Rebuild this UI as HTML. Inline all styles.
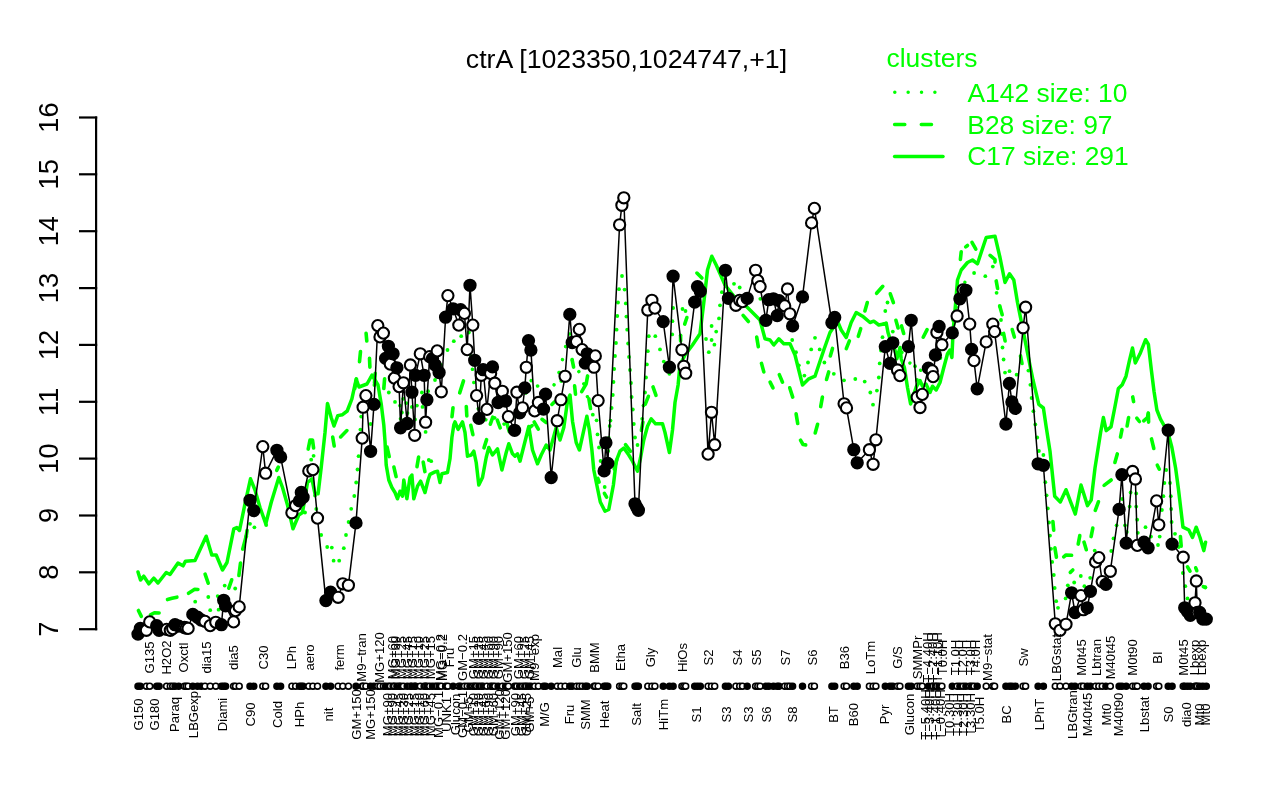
<!DOCTYPE html><html><head><meta charset="utf-8"><title>ctrA [1023350,1024747,+1]</title>
<style>html,body{margin:0;padding:0;background:#fff}svg{display:block;will-change:transform}text{font-family:"Liberation Sans",sans-serif}</style></head><body>
<svg width="1280" height="800" viewBox="0 0 1280 800">
<rect width="1280" height="800" fill="#fff"/>
<text x="626.5" y="67.6" font-size="26.7" text-anchor="middle" fill="#000">ctrA [1023350,1024747,+1]</text>
<g stroke="#000" stroke-width="2.2" fill="none">
<path d="M96.1 116.4 V630.3"/>
<path d="M79 117.5 H97.2"/>
<path d="M79 174.3 H97.2"/>
<path d="M79 231.2 H97.2"/>
<path d="M79 288.1 H97.2"/>
<path d="M79 344.9 H97.2"/>
<path d="M79 401.8 H97.2"/>
<path d="M79 458.6 H97.2"/>
<path d="M79 515.5 H97.2"/>
<path d="M79 572.3 H97.2"/>
<path d="M79 629.2 H97.2"/>
</g>
<g font-size="27.2" fill="#000" text-anchor="middle">
<text transform="translate(57.5 117.5) rotate(-90)">16</text>
<text transform="translate(57.5 174.3) rotate(-90)">15</text>
<text transform="translate(57.5 231.2) rotate(-90)">14</text>
<text transform="translate(57.5 288.1) rotate(-90)">13</text>
<text transform="translate(57.5 344.9) rotate(-90)">12</text>
<text transform="translate(57.5 401.8) rotate(-90)">11</text>
<text transform="translate(57.5 458.6) rotate(-90)">10</text>
<text transform="translate(57.5 515.5) rotate(-90)">9</text>
<text transform="translate(57.5 572.3) rotate(-90)">8</text>
<text transform="translate(57.5 629.2) rotate(-90)">7</text>
</g>
<g fill="#00ff00" font-size="26.4">
<text x="886.5" y="67.2">clusters</text>
<text x="967.5" y="102">A142 size: 10</text>
<text x="967.3" y="133.5">B28 size: 97</text>
<text x="967.3" y="165.3">C17 size: 291</text>
</g>
<g stroke="#00ff00" stroke-width="3.5" fill="none">
<path d="M894.8 92.3 H944" stroke-dasharray="0.01 13.35" stroke-linecap="round"/>
<path d="M894.6 124.4 H944" stroke-dasharray="10.2 16.5" stroke-linecap="round"/>
<path d="M894.6 156.4 H943" stroke-linecap="round"/>
</g>
<g stroke="#00ff00" stroke-width="3.5" fill="none" stroke-linejoin="round">
<polyline points="471.0,356.0 473.8,382.5 477.5,407.5 484.0,418.0 490.0,423.8 496.2,416.2 505.0,425.0 515.0,415.0 525.0,395.0 532.5,377.5 540.0,390.0 550.0,395.0 560.0,370.0 566.0,345.0 570.0,333.8 572.5,362.5 581.2,375.0 587.0,395.0 590.0,408.0" stroke-dasharray="0.01 13.35" stroke-linecap="round"/>
<polyline points="897.0,340.0 903.0,355.0 913.8,367.5 925.0,372.0 935.0,368.0 945.0,350.0 953.0,320.0 960.0,292.0 967.0,278.0" stroke-dasharray="0.01 13.35" stroke-linecap="round"/>
<g fill="#00ff00" stroke="none">
<circle cx="195.2" cy="601.7" r="1.9"/>
<circle cx="208.3" cy="597.0" r="1.9"/>
<circle cx="210.2" cy="610.2" r="1.9"/>
<circle cx="218.6" cy="609.7" r="1.9"/>
<circle cx="217.7" cy="596.1" r="1.9"/>
<circle cx="224.7" cy="585.6" r="1.9"/>
<circle cx="235.2" cy="588.5" r="1.9"/>
<circle cx="246.2" cy="536.2" r="1.9"/>
<circle cx="250.0" cy="523.8" r="1.9"/>
<circle cx="254.4" cy="527.3" r="1.9"/>
<circle cx="266.2" cy="525.0" r="1.9"/>
<circle cx="305.0" cy="512.5" r="1.9"/>
<circle cx="311.2" cy="459.7" r="1.9"/>
<circle cx="313.6" cy="455.8" r="1.9"/>
<circle cx="315.0" cy="495.6" r="1.9"/>
<circle cx="316.3" cy="509.0" r="1.9"/>
<circle cx="321.2" cy="535.0" r="1.9"/>
<circle cx="327.2" cy="547.0" r="1.9"/>
<circle cx="331.8" cy="547.6" r="1.9"/>
<circle cx="333.6" cy="560.7" r="1.9"/>
<circle cx="339.2" cy="560.7" r="1.9"/>
<circle cx="343.8" cy="548.2" r="1.9"/>
<circle cx="346.0" cy="535.0" r="1.9"/>
<circle cx="348.6" cy="522.0" r="1.9"/>
<circle cx="351.2" cy="508.8" r="1.9"/>
<circle cx="354.3" cy="496.0" r="1.9"/>
<circle cx="356.2" cy="482.5" r="1.9"/>
<circle cx="357.5" cy="469.5" r="1.9"/>
<circle cx="358.6" cy="456.2" r="1.9"/>
<circle cx="360.4" cy="429.6" r="1.9"/>
<circle cx="361.2" cy="416.6" r="1.9"/>
<circle cx="370.6" cy="424.0" r="1.9"/>
<circle cx="374.4" cy="385.0" r="1.9"/>
<circle cx="388.8" cy="392.5" r="1.9"/>
<circle cx="395.0" cy="401.9" r="1.9"/>
<circle cx="400.0" cy="405.6" r="1.9"/>
<circle cx="403.1" cy="398.8" r="1.9"/>
<circle cx="406.2" cy="403.1" r="1.9"/>
<circle cx="411.9" cy="406.9" r="1.9"/>
<circle cx="416.9" cy="405.6" r="1.9"/>
<circle cx="422.5" cy="406.9" r="1.9"/>
<circle cx="421.9" cy="392.5" r="1.9"/>
<circle cx="428.1" cy="391.2" r="1.9"/>
<circle cx="401.9" cy="412.5" r="1.9"/>
<circle cx="407.5" cy="413.1" r="1.9"/>
<circle cx="400.6" cy="418.8" r="1.9"/>
<circle cx="415.0" cy="419.4" r="1.9"/>
<circle cx="425.6" cy="431.9" r="1.9"/>
<circle cx="428.8" cy="460.0" r="1.9"/>
<circle cx="431.2" cy="461.2" r="1.9"/>
<circle cx="435.0" cy="380.0" r="1.9"/>
<circle cx="441.0" cy="365.0" r="1.9"/>
<circle cx="447.5" cy="350.0" r="1.9"/>
<circle cx="453.8" cy="341.2" r="1.9"/>
<circle cx="461.2" cy="336.2" r="1.9"/>
<circle cx="468.8" cy="332.5" r="1.9"/>
<circle cx="610.5" cy="420.6" r="1.9"/>
<circle cx="611.6" cy="408.0" r="1.9"/>
<circle cx="612.8" cy="395.0" r="1.9"/>
<circle cx="613.5" cy="382.0" r="1.9"/>
<circle cx="614.2" cy="369.0" r="1.9"/>
<circle cx="615.0" cy="356.0" r="1.9"/>
<circle cx="616.0" cy="343.0" r="1.9"/>
<circle cx="616.6" cy="329.7" r="1.9"/>
<circle cx="617.3" cy="316.0" r="1.9"/>
<circle cx="618.0" cy="302.5" r="1.9"/>
<circle cx="619.0" cy="289.2" r="1.9"/>
<circle cx="622.0" cy="276.0" r="1.9"/>
<circle cx="624.6" cy="289.6" r="1.9"/>
<circle cx="625.8" cy="303.4" r="1.9"/>
<circle cx="626.4" cy="316.6" r="1.9"/>
<circle cx="627.2" cy="329.7" r="1.9"/>
<circle cx="628.1" cy="343.5" r="1.9"/>
<circle cx="629.0" cy="356.9" r="1.9"/>
<circle cx="630.0" cy="370.0" r="1.9"/>
<circle cx="631.0" cy="383.0" r="1.9"/>
<circle cx="631.6" cy="397.0" r="1.9"/>
<circle cx="632.8" cy="409.5" r="1.9"/>
<circle cx="633.8" cy="424.0" r="1.9"/>
<circle cx="635.0" cy="437.5" r="1.9"/>
<circle cx="637.5" cy="445.0" r="1.9"/>
<circle cx="642.2" cy="418.8" r="1.9"/>
<circle cx="643.5" cy="405.6" r="1.9"/>
<circle cx="645.0" cy="392.5" r="1.9"/>
<circle cx="646.0" cy="377.5" r="1.9"/>
<circle cx="646.9" cy="364.4" r="1.9"/>
<circle cx="647.8" cy="351.2" r="1.9"/>
<circle cx="648.8" cy="336.2" r="1.9"/>
<circle cx="655.3" cy="336.2" r="1.9"/>
<circle cx="660.0" cy="349.4" r="1.9"/>
<circle cx="663.8" cy="361.6" r="1.9"/>
<circle cx="669.4" cy="373.8" r="1.9"/>
<circle cx="672.2" cy="334.4" r="1.9"/>
<circle cx="672.4" cy="321.2" r="1.9"/>
<circle cx="673.1" cy="308.0" r="1.9"/>
<circle cx="682.5" cy="309.0" r="1.9"/>
<circle cx="685.5" cy="311.0" r="1.9"/>
<circle cx="592.8" cy="414.7" r="1.9"/>
<circle cx="596.6" cy="420.3" r="1.9"/>
<circle cx="597.5" cy="434.4" r="1.9"/>
<circle cx="599.0" cy="447.5" r="1.9"/>
<circle cx="600.6" cy="461.0" r="1.9"/>
<circle cx="602.5" cy="474.0" r="1.9"/>
<circle cx="604.7" cy="487.0" r="1.9"/>
<circle cx="608.2" cy="451.0" r="1.9"/>
<circle cx="608.8" cy="438.0" r="1.9"/>
<circle cx="609.7" cy="426.0" r="1.9"/>
<circle cx="706.0" cy="339.0" r="1.9"/>
<circle cx="711.6" cy="340.0" r="1.9"/>
<circle cx="714.4" cy="344.7" r="1.9"/>
<circle cx="708.8" cy="352.2" r="1.9"/>
<circle cx="711.6" cy="326.0" r="1.9"/>
<circle cx="716.2" cy="331.6" r="1.9"/>
<circle cx="719.0" cy="318.4" r="1.9"/>
<circle cx="720.0" cy="305.3" r="1.9"/>
<circle cx="721.9" cy="292.2" r="1.9"/>
<circle cx="734.0" cy="283.8" r="1.9"/>
<circle cx="739.7" cy="287.5" r="1.9"/>
<circle cx="760.3" cy="298.8" r="1.9"/>
<circle cx="792.2" cy="340.0" r="1.9"/>
<circle cx="796.0" cy="352.2" r="1.9"/>
<circle cx="798.8" cy="365.3" r="1.9"/>
<circle cx="804.4" cy="375.6" r="1.9"/>
<circle cx="808.0" cy="362.5" r="1.9"/>
<circle cx="811.2" cy="349.4" r="1.9"/>
<circle cx="815.0" cy="337.8" r="1.9"/>
<circle cx="819.7" cy="349.4" r="1.9"/>
<circle cx="824.4" cy="362.5" r="1.9"/>
<circle cx="833.8" cy="373.8" r="1.9"/>
<circle cx="844.0" cy="380.3" r="1.9"/>
<circle cx="855.3" cy="379.0" r="1.9"/>
<circle cx="864.7" cy="381.6" r="1.9"/>
<circle cx="870.3" cy="392.5" r="1.9"/>
<circle cx="873.0" cy="404.7" r="1.9"/>
<circle cx="876.9" cy="390.6" r="1.9"/>
<circle cx="878.8" cy="377.5" r="1.9"/>
<circle cx="879.7" cy="363.4" r="1.9"/>
<circle cx="881.0" cy="350.5" r="1.9"/>
<circle cx="882.5" cy="337.2" r="1.9"/>
<circle cx="884.0" cy="324.0" r="1.9"/>
<circle cx="885.3" cy="311.0" r="1.9"/>
<circle cx="887.5" cy="302.5" r="1.9"/>
<circle cx="892.8" cy="331.6" r="1.9"/>
<circle cx="915.0" cy="366.2" r="1.9"/>
<circle cx="917.0" cy="380.0" r="1.9"/>
<circle cx="974.1" cy="273.0" r="1.9"/>
<circle cx="985.3" cy="276.2" r="1.9"/>
<circle cx="992.8" cy="266.6" r="1.9"/>
<circle cx="996.6" cy="292.8" r="1.9"/>
<circle cx="999.7" cy="306.0" r="1.9"/>
<circle cx="1001.0" cy="320.0" r="1.9"/>
<circle cx="1001.8" cy="334.0" r="1.9"/>
<circle cx="1002.5" cy="347.5" r="1.9"/>
<circle cx="1003.6" cy="359.5" r="1.9"/>
<circle cx="1005.0" cy="372.6" r="1.9"/>
<circle cx="1009.5" cy="371.2" r="1.9"/>
<circle cx="1016.6" cy="374.7" r="1.9"/>
<circle cx="1028.4" cy="370.6" r="1.9"/>
<circle cx="1030.4" cy="384.8" r="1.9"/>
<circle cx="1031.6" cy="398.0" r="1.9"/>
<circle cx="1033.4" cy="411.2" r="1.9"/>
<circle cx="1035.3" cy="424.4" r="1.9"/>
<circle cx="1037.2" cy="437.5" r="1.9"/>
<circle cx="1038.9" cy="451.0" r="1.9"/>
<circle cx="1043.4" cy="455.0" r="1.9"/>
<circle cx="1044.3" cy="468.5" r="1.9"/>
<circle cx="1045.3" cy="482.2" r="1.9"/>
<circle cx="1046.6" cy="495.3" r="1.9"/>
<circle cx="1047.8" cy="508.4" r="1.9"/>
<circle cx="1049.0" cy="522.5" r="1.9"/>
<circle cx="1050.0" cy="535.6" r="1.9"/>
<circle cx="1051.0" cy="548.8" r="1.9"/>
<circle cx="1052.2" cy="561.9" r="1.9"/>
<circle cx="1053.8" cy="575.0" r="1.9"/>
<circle cx="1054.7" cy="588.0" r="1.9"/>
<circle cx="1056.2" cy="601.2" r="1.9"/>
<circle cx="1058.0" cy="607.8" r="1.9"/>
<circle cx="1065.6" cy="598.4" r="1.9"/>
<circle cx="1067.8" cy="585.3" r="1.9"/>
<circle cx="1074.2" cy="582.5" r="1.9"/>
<circle cx="1080.8" cy="576.0" r="1.9"/>
<circle cx="1084.4" cy="586.2" r="1.9"/>
<circle cx="1090.2" cy="577.8" r="1.9"/>
<circle cx="1094.7" cy="550.6" r="1.9"/>
<circle cx="1111.3" cy="551.0" r="1.9"/>
<circle cx="1113.5" cy="538.4" r="1.9"/>
<circle cx="1116.6" cy="525.3" r="1.9"/>
<circle cx="1122.2" cy="499.0" r="1.9"/>
<circle cx="1125.0" cy="525.3" r="1.9"/>
<circle cx="1126.8" cy="532.0" r="1.9"/>
<circle cx="1129.7" cy="506.6" r="1.9"/>
<circle cx="1130.6" cy="492.5" r="1.9"/>
<circle cx="1136.2" cy="493.4" r="1.9"/>
<circle cx="1136.2" cy="506.6" r="1.9"/>
<circle cx="1137.2" cy="519.7" r="1.9"/>
<circle cx="1137.8" cy="532.8" r="1.9"/>
<circle cx="1145.5" cy="527.2" r="1.9"/>
<circle cx="1151.0" cy="536.6" r="1.9"/>
<circle cx="1158.0" cy="545.0" r="1.9"/>
<circle cx="1159.7" cy="536.6" r="1.9"/>
<circle cx="1161.9" cy="510.0" r="1.9"/>
<circle cx="1163.4" cy="496.2" r="1.9"/>
<circle cx="1164.4" cy="483.0" r="1.9"/>
<circle cx="1166.2" cy="470.0" r="1.9"/>
<circle cx="1170.0" cy="483.0" r="1.9"/>
<circle cx="1170.8" cy="496.2" r="1.9"/>
<circle cx="1171.2" cy="509.0" r="1.9"/>
<circle cx="1171.6" cy="522.0" r="1.9"/>
<circle cx="1175.0" cy="533.8" r="1.9"/>
<circle cx="1178.7" cy="547.0" r="1.9"/>
<circle cx="1180.6" cy="560.0" r="1.9"/>
<circle cx="1182.9" cy="573.0" r="1.9"/>
<circle cx="1185.3" cy="586.2" r="1.9"/>
<circle cx="1187.5" cy="598.4" r="1.9"/>
<circle cx="1205.3" cy="587.2" r="1.9"/>
</g>
<g stroke-linecap="round" stroke-width="3.6">
<polyline points="138.4,610.5 141.3,616.4"/>
<polyline points="150.5,614.9 154.4,612.7 159.1,613.0"/>
<polyline points="167.5,599.6 172.0,598.3 176.9,597.2"/>
<polyline points="188.5,593.3 194.7,589.3 197.9,589.5"/>
<polyline points="205.1,574.2 208.2,583.2"/>
<polyline points="228.8,588.2 231.7,579.8"/>
<polyline points="238.9,575.4 240.5,563.1"/>
<polyline points="242.7,549.1 246.2,536.0 247.1,530.3"/>
<polyline points="276.7,470.4 278.3,467.1"/>
<polyline points="308.2,449.1 310.0,440.0 312.5,440.0 313.6,447.9"/>
<polyline points="332.7,437.1 334.2,446.0"/>
<polyline points="340.6,436.9 346.9,430.6"/>
<polyline points="354.8,388.5 356.5,378.9"/>
<polyline points="359.5,361.6 360.5,351.5"/>
<polyline points="366.1,333.4 366.8,341.0"/>
<polyline points="369.5,358.4 369.9,367.1"/>
<polyline points="374.5,382.9 375.2,373.4"/>
<polyline points="383.8,388.5 384.6,378.9"/>
<polyline points="387.1,447.1 389.2,456.6"/>
<polyline points="393.9,467.1 396.1,476.6"/>
<polyline points="417.0,466.6 418.6,457.1"/>
<polyline points="423.2,462.1 424.9,471.6"/>
<polyline points="452.0,416.6 453.0,407.8"/>
<polyline points="459.7,392.9 463.5,380.9"/>
<polyline points="466.3,406.5 466.8,416.0"/>
<polyline points="470.8,425.3 472.9,434.7"/>
<polyline points="484.0,447.9 486.6,439.6"/>
<polyline points="490.3,424.2 492.8,417.1"/>
<polyline points="497.3,420.2 500.2,427.9"/>
<polyline points="506.8,423.1 509.2,431.6"/>
<polyline points="528.7,428.2 532.1,425.6"/>
<polyline points="534.2,422.0 538.3,429.2"/>
<polyline points="542.0,419.3 546.2,422.5"/>
<polyline points="551.9,404.4 554.4,401.9"/>
<polyline points="561.2,381.1 563.8,371.9"/>
<polyline points="572.1,359.6 573.6,367.1"/>
<polyline points="574.6,385.9 575.5,394.1"/>
<polyline points="581.7,391.7 586.2,383.8 587.6,375.9"/>
<polyline points="588.9,398.9 590.5,408.5"/>
<polyline points="597.8,478.4 599.1,482.1"/>
<polyline points="604.4,493.3 606.6,497.2"/>
<polyline points="614.2,469.1 616.8,459.9"/>
<polyline points="625.5,444.7 630.5,451.3"/>
<polyline points="641.4,430.4 642.9,422.1"/>
<polyline points="645.3,404.2 648.4,396.3"/>
<polyline points="653.0,386.9 656.0,395.4"/>
<polyline points="680.6,335.3 680.6,341.1"/>
<polyline points="684.7,324.1 686.9,317.5"/>
<polyline points="696.9,273.1 701.9,278.1"/>
<polyline points="743.1,315.4 748.4,321.5"/>
<polyline points="756.7,337.1 758.3,346.6"/>
<polyline points="761.5,363.4 763.8,371.9"/>
<polyline points="770.1,382.1 773.0,387.9"/>
<polyline points="779.3,374.6 782.5,382.2"/>
<polyline points="789.7,387.8 792.7,397.1"/>
<polyline points="796.1,413.9 797.7,423.5"/>
<polyline points="800.5,440.2 803.0,444.5 805.7,444.9"/>
<polyline points="815.2,432.9 817.6,424.3"/>
<polyline points="820.7,406.6 822.4,397.1"/>
<polyline points="826.5,379.4 828.7,371.9"/>
<polyline points="830.3,356.0 832.5,348.4"/>
<polyline points="846.3,348.6 849.4,340.8"/>
<polyline points="858.3,336.3 860.7,328.7"/>
<polyline points="864.9,311.0 867.3,302.5"/>
<polyline points="876.6,293.3 882.8,286.3"/>
<polyline points="890.3,293.8 893.4,302.6"/>
<polyline points="895.9,320.3 898.1,327.9"/>
<polyline points="901.5,325.9 903.7,333.5"/>
<polyline points="923.2,337.2 927.1,329.6"/>
<polyline points="960.4,259.4 961.2,251.9"/>
<polyline points="965.7,246.9 967.5,245.5"/>
<polyline points="972.0,242.4 975.8,249.2"/>
<polyline points="990.1,255.3 995.0,259.5 995.0,262.1"/>
<polyline points="996.2,280.9 997.6,288.5"/>
<polyline points="1000.0,307.1 1002.2,314.7"/>
<polyline points="1003.6,333.4 1005.1,341.0"/>
<polyline points="1012.2,329.6 1014.4,337.1"/>
<polyline points="1020.5,355.9 1022.0,363.5"/>
<polyline points="1052.9,521.5 1053.7,530.1"/>
<polyline points="1054.9,547.9 1056.4,557.1"/>
<polyline points="1063.7,556.9 1066.0,555.0 1071.6,555.3"/>
<polyline points="1070.3,572.4 1072.8,570.0"/>
<polyline points="1078.2,544.1 1079.8,535.6"/>
<polyline points="1084.0,542.1 1086.3,549.7"/>
<polyline points="1091.1,536.6 1092.8,528.1"/>
<polyline points="1095.3,510.4 1098.4,501.8"/>
<polyline points="1104.1,485.4 1111.2,480.0"/>
<polyline points="1114.9,462.5 1117.3,453.9"/>
<polyline points="1120.5,437.1 1122.0,429.6"/>
<polyline points="1127.1,426.0 1128.6,417.5"/>
<polyline points="1132.7,396.9 1133.6,401.6"/>
<polyline points="1136.8,418.2 1139.4,421.5"/>
<polyline points="1143.7,420.9 1147.5,417.5 1148.3,412.9"/>
<polyline points="1148.4,413.9 1148.6,422.1"/>
<polyline points="1151.5,438.9 1153.8,448.5"/>
<polyline points="1157.3,465.2 1159.3,469.2"/>
<polyline points="1180.4,536.5 1181.2,546.1"/>
<polyline points="1187.5,566.8 1190.0,571.2"/>
<polyline points="1195.7,567.8 1196.8,570.7"/>
<polyline points="1203.3,586.6 1205.4,587.6"/>
</g>
<polyline points="138.0,572.0 140.5,580.0 143.8,576.2 148.8,583.8 153.8,578.2 158.0,583.0 166.2,572.5 170.0,574.5 178.0,563.0 183.0,565.8 185.5,561.2 195.0,560.5 206.2,536.2 211.8,555.0 216.2,555.0 222.5,570.0 227.0,562.5 233.8,528.8 236.8,527.5 239.5,530.5 245.0,503.8 250.5,478.8 255.0,490.0 260.0,507.5 265.8,523.8 271.2,502.5 278.8,477.5 282.5,487.5 287.5,505.0 293.0,528.8 298.8,515.0 302.5,512.5 307.5,482.5 311.9,478.8 315.0,493.8 318.1,493.8 321.2,467.5 325.0,432.5 327.5,403.5 331.2,417.5 334.0,426.0 337.8,415.6 342.5,414.7 347.2,411.0 351.9,398.8 356.2,379.0 359.0,387.0 367.0,384.0 372.0,375.0 378.0,385.0 381.2,403.8 383.8,425.0 385.0,441.2 386.2,465.0 388.8,480.0 391.9,487.5 395.0,492.5 397.5,498.8 400.0,491.2 402.5,496.2 403.8,480.0 406.9,498.8 410.0,477.5 411.9,475.0 413.8,498.8 417.5,486.2 420.6,481.2 425.0,492.5 428.1,480.0 430.0,474.4 435.0,471.9 437.5,471.2 440.0,482.5 441.9,473.8 447.5,472.5 450.0,458.8 451.9,437.5 453.8,425.0 455.0,421.9 458.1,429.4 462.5,421.9 465.0,432.5 467.5,456.2 471.2,455.0 473.8,451.2 476.2,462.5 478.8,485.0 482.5,477.5 486.2,457.5 488.8,447.5 492.5,455.0 497.5,448.8 501.9,470.0 506.2,452.5 508.8,443.8 512.5,453.8 515.0,456.2 517.5,453.8 520.0,461.2 523.8,446.2 528.8,426.5 532.5,450.0 537.5,463.8 541.2,455.0 546.2,445.0 550.0,450.0 553.8,436.2 556.2,427.5 560.0,440.0 563.8,427.5 567.5,401.2 570.0,395.0 572.5,421.2 576.2,442.5 579.4,450.0 582.5,436.2 586.9,416.2 589.4,430.0 591.9,450.0 593.8,470.0 596.2,482.0 600.3,502.0 605.0,511.2 608.8,509.4 613.4,485.0 616.2,461.2 620.0,451.2 623.8,448.0 628.8,455.0 632.5,461.2 637.5,471.2 640.6,457.5 643.8,440.0 647.5,426.2 651.2,418.8 655.6,423.8 662.5,423.8 665.0,432.5 669.4,452.5 672.5,430.0 675.0,402.5 678.1,385.0 680.0,365.0 685.0,355.0 692.5,345.0 700.0,333.8 703.8,302.5 707.5,270.0 711.8,256.2 716.2,265.0 725.0,285.0 735.0,297.5 742.5,302.5 752.5,312.5 760.0,320.0 765.0,338.8 770.0,340.0 773.8,345.0 778.8,338.8 783.8,343.8 790.0,343.8 795.0,355.0 800.0,375.0 802.5,385.0 808.8,378.8 815.0,376.2 823.8,350.0 830.0,332.5 837.5,321.2 841.2,330.0 846.2,337.5 851.2,322.5 856.2,312.5 862.5,316.2 870.0,322.5 873.8,321.2 878.8,325.0 885.0,323.8 886.2,323.0 888.0,332.5 891.2,342.5 895.0,350.0 896.9,358.8 900.0,347.5 901.2,358.8 904.4,367.5 907.5,387.5 910.6,404.0 913.5,395.0 916.2,387.0 920.0,380.5 922.5,386.2 926.0,384.0 930.0,392.5 932.5,386.2 936.2,390.0 940.0,382.5 943.8,367.5 947.5,353.8 950.0,350.0 951.9,357.5 953.1,331.2 955.5,305.0 957.5,280.0 961.2,270.0 967.5,262.5 972.5,260.0 977.5,263.8 981.2,252.5 986.2,237.5 995.0,236.2 1000.0,257.5 1005.0,282.5 1009.5,273.8 1013.8,280.0 1017.5,302.5 1022.5,327.5 1028.4,357.5 1033.0,380.0 1038.8,404.4 1043.4,408.0 1046.2,427.0 1050.0,451.2 1054.7,496.2 1060.3,501.9 1066.0,489.7 1070.6,501.9 1075.3,514.0 1081.0,485.0 1087.5,505.6 1091.2,500.0 1095.0,468.0 1100.6,432.5 1103.4,417.5 1106.2,430.6 1111.0,426.9 1114.7,408.0 1118.4,388.4 1122.2,384.7 1126.0,376.2 1129.7,359.4 1132.5,348.0 1135.3,363.0 1140.0,353.8 1145.6,339.7 1148.4,344.4 1151.2,368.8 1154.0,391.2 1156.9,410.0 1160.6,419.4 1168.0,432.5 1171.9,447.5 1175.6,468.0 1178.4,488.8 1183.0,527.2 1188.8,530.0 1192.5,537.5 1196.2,527.2 1200.0,537.5 1203.8,550.6 1205.6,542.2" stroke-linecap="round"/>
</g>
<polyline points="138.0,634.1 140.3,628.4 146.4,630.3 149.7,621.9 156.7,625.6 159.1,630.3 166.6,629.4 170.3,630.3 172.7,628.6 175.0,624.7 178.7,626.1 184.4,627.5 186.2,628.0 188.1,628.4 192.8,614.4 197.5,617.2 201.2,620.0 205.0,621.4 210.2,625.6 215.8,622.3 221.4,624.7 223.7,600.3 225.6,605.9 233.6,621.9 235.5,610.6 239.2,606.9 250.0,500.3 253.8,510.6 262.8,446.6 265.6,473.2 276.9,450.3 280.6,456.9 291.9,512.8 295.6,505.6 299.4,500.9 301.3,492.5 303.1,497.2 308.8,470.9 312.9,469.6 317.5,518.1 325.9,600.6 330.6,592.2 338.1,597.3 342.8,583.8 348.4,585.3 356.0,522.9 362.2,438.1 363.1,407.2 365.9,395.6 370.6,451.3 374.0,404.4 377.8,325.6 380.0,336.9 383.4,333.1 385.6,358.4 388.4,346.3 390.3,364.1 393.1,353.8 394.4,378.1 396.9,367.8 399.1,386.6 400.6,427.8 403.4,382.8 407.2,423.5 410.4,365.0 411.9,392.2 414.7,435.3 415.6,375.3 420.3,353.8 424.1,375.3 425.6,422.2 426.9,399.7 429.7,356.6 432.5,358.4 435.3,365.0 437.2,350.9 439.1,372.5 441.3,391.8 445.6,317.2 447.9,295.6 453.1,308.8 458.8,325.1 460.6,309.7 464.4,313.4 467.2,349.6 470.0,285.3 472.8,325.1 474.7,360.3 476.6,395.6 479.0,418.4 481.3,375.3 483.1,369.7 486.9,409.4 490.6,373.4 492.5,366.9 494.8,383.2 498.1,402.5 502.3,391.3 505.6,401.0 508.4,416.6 514.6,430.3 516.9,392.2 519.7,412.8 522.5,407.8 524.8,387.9 526.3,367.3 528.5,340.6 530.9,350.0 534.7,410.9 538.4,402.5 543.5,409.1 545.6,394.1 551.2,477.5 557.2,420.7 560.9,399.7 565.1,376.3 569.8,314.4 572.2,342.5 576.5,341.6 579.3,329.4 582.1,349.6 585.3,363.1 587.2,353.8 594.0,367.2 595.3,355.9 598.1,400.6 604.1,470.9 605.9,442.8 607.8,463.4 619.6,224.8 621.9,205.3 623.8,197.8 635.0,503.8 636.9,507.5 638.4,510.3 647.8,310.0 651.9,300.3 654.9,308.1 663.2,321.6 669.4,367.2 673.1,276.2 681.9,349.8 683.8,366.3 685.7,373.2 694.7,302.1 697.5,286.6 700.3,291.3 708.1,454.1 711.5,412.3 714.7,444.7 725.4,270.3 728.4,298.4 735.9,305.3 739.7,300.3 742.5,301.6 747.2,298.4 755.6,270.3 757.8,280.6 760.1,286.6 765.9,320.3 768.8,299.7 773.4,298.8 777.2,315.6 779.1,300.6 784.7,305.9 787.5,289.0 789.8,313.8 792.6,325.9 802.5,296.9 811.6,222.9 814.4,208.4 831.9,322.8 834.7,317.5 844.1,403.8 846.5,407.9 853.8,449.7 857.2,462.8 869.4,449.7 873.1,464.3 875.9,439.8 885.3,346.6 890.0,363.4 892.8,342.8 897.5,370.0 899.9,375.6 908.4,346.6 911.2,320.3 917.2,397.2 920.0,407.5 922.3,394.4 928.4,368.1 932.2,370.9 933.1,376.6 935.4,355.0 936.9,332.5 939.1,326.5 941.9,344.7 952.3,332.9 957.1,316.0 959.9,298.8 963.1,289.8 965.9,290.3 969.7,324.1 971.6,349.4 974.0,360.6 977.2,388.8 986.2,341.9 992.8,324.1 994.6,331.6 1005.9,424.0 1009.4,383.5 1011.9,401.9 1015.3,408.4 1023.1,327.8 1025.6,307.2 1038.1,463.8 1043.4,465.3 1055.3,623.8 1060.0,630.3 1066.0,624.3 1071.6,592.8 1075.0,612.5 1081.0,595.6 1083.4,609.7 1087.2,607.8 1090.4,591.3 1095.6,561.9 1098.8,557.6 1102.2,581.6 1105.9,584.4 1110.3,571.3 1119.1,509.4 1121.9,474.7 1126.2,543.1 1132.6,471.5 1135.4,479.0 1137.3,545.4 1144.0,542.2 1148.1,547.8 1156.6,500.9 1158.8,524.8 1168.2,430.2 1172.1,544.1 1183.2,557.2 1184.7,607.8 1187.5,611.6 1190.3,615.3 1195.0,602.8 1196.3,581.0 1197.4,612.5 1199.7,612.5 1202.9,619.1 1206.3,619.1" stroke="#000" stroke-width="1.5" fill="none" stroke-linejoin="round"/>
<g stroke="#000" stroke-width="2.1">
<circle cx="138.0" cy="634.1" r="5.6" fill="#000"/>
<circle cx="140.3" cy="628.4" r="5.6" fill="#000"/>
<circle cx="146.4" cy="630.3" r="5.6" fill="#fff"/>
<circle cx="149.7" cy="621.9" r="5.6" fill="#fff"/>
<circle cx="156.7" cy="625.6" r="5.6" fill="#000"/>
<circle cx="159.1" cy="630.3" r="5.6" fill="#000"/>
<circle cx="166.6" cy="629.4" r="5.6" fill="#fff"/>
<circle cx="170.3" cy="630.3" r="5.6" fill="#fff"/>
<circle cx="172.7" cy="628.6" r="5.6" fill="#fff"/>
<circle cx="175.0" cy="624.7" r="5.6" fill="#000"/>
<circle cx="178.7" cy="626.1" r="5.6" fill="#000"/>
<circle cx="184.4" cy="627.5" r="5.6" fill="#fff"/>
<circle cx="186.2" cy="628.0" r="5.6" fill="#fff"/>
<circle cx="188.1" cy="628.4" r="5.6" fill="#fff"/>
<circle cx="192.8" cy="614.4" r="5.6" fill="#000"/>
<circle cx="197.5" cy="617.2" r="5.6" fill="#000"/>
<circle cx="201.2" cy="620.0" r="5.6" fill="#000"/>
<circle cx="205.0" cy="621.4" r="5.6" fill="#fff"/>
<circle cx="210.2" cy="625.6" r="5.6" fill="#fff"/>
<circle cx="215.8" cy="622.3" r="5.6" fill="#fff"/>
<circle cx="221.4" cy="624.7" r="5.6" fill="#000"/>
<circle cx="223.7" cy="600.3" r="5.6" fill="#000"/>
<circle cx="225.6" cy="605.9" r="5.6" fill="#000"/>
<circle cx="233.6" cy="621.9" r="5.6" fill="#fff"/>
<circle cx="235.5" cy="610.6" r="5.6" fill="#fff"/>
<circle cx="239.2" cy="606.9" r="5.6" fill="#fff"/>
<circle cx="250.0" cy="500.3" r="5.6" fill="#000"/>
<circle cx="253.8" cy="510.6" r="5.6" fill="#000"/>
<circle cx="262.8" cy="446.6" r="5.6" fill="#fff"/>
<circle cx="265.6" cy="473.2" r="5.6" fill="#fff"/>
<circle cx="276.9" cy="450.3" r="5.6" fill="#000"/>
<circle cx="280.6" cy="456.9" r="5.6" fill="#000"/>
<circle cx="291.9" cy="512.8" r="5.6" fill="#fff"/>
<circle cx="295.6" cy="505.6" r="5.6" fill="#fff"/>
<circle cx="299.4" cy="500.9" r="5.6" fill="#000"/>
<circle cx="301.3" cy="492.5" r="5.6" fill="#000"/>
<circle cx="303.1" cy="497.2" r="5.6" fill="#000"/>
<circle cx="308.8" cy="470.9" r="5.6" fill="#fff"/>
<circle cx="312.9" cy="469.6" r="5.6" fill="#fff"/>
<circle cx="317.5" cy="518.1" r="5.6" fill="#fff"/>
<circle cx="325.9" cy="600.6" r="5.6" fill="#000"/>
<circle cx="330.6" cy="592.2" r="5.6" fill="#000"/>
<circle cx="338.1" cy="597.3" r="5.6" fill="#fff"/>
<circle cx="342.8" cy="583.8" r="5.6" fill="#fff"/>
<circle cx="348.4" cy="585.3" r="5.6" fill="#fff"/>
<circle cx="356.0" cy="522.9" r="5.6" fill="#000"/>
<circle cx="362.2" cy="438.1" r="5.6" fill="#fff"/>
<circle cx="363.1" cy="407.2" r="5.6" fill="#fff"/>
<circle cx="365.9" cy="395.6" r="5.6" fill="#fff"/>
<circle cx="370.6" cy="451.3" r="5.6" fill="#000"/>
<circle cx="374.0" cy="404.4" r="5.6" fill="#000"/>
<circle cx="377.8" cy="325.6" r="5.6" fill="#fff"/>
<circle cx="380.0" cy="336.9" r="5.6" fill="#fff"/>
<circle cx="383.4" cy="333.1" r="5.6" fill="#fff"/>
<circle cx="385.6" cy="358.4" r="5.6" fill="#000"/>
<circle cx="388.4" cy="346.3" r="5.6" fill="#000"/>
<circle cx="390.3" cy="364.1" r="5.6" fill="#fff"/>
<circle cx="393.1" cy="353.8" r="5.6" fill="#000"/>
<circle cx="394.4" cy="378.1" r="5.6" fill="#fff"/>
<circle cx="396.9" cy="367.8" r="5.6" fill="#000"/>
<circle cx="399.1" cy="386.6" r="5.6" fill="#fff"/>
<circle cx="400.6" cy="427.8" r="5.6" fill="#000"/>
<circle cx="403.4" cy="382.8" r="5.6" fill="#fff"/>
<circle cx="407.2" cy="423.5" r="5.6" fill="#000"/>
<circle cx="410.4" cy="365.0" r="5.6" fill="#fff"/>
<circle cx="411.9" cy="392.2" r="5.6" fill="#000"/>
<circle cx="414.7" cy="435.3" r="5.6" fill="#fff"/>
<circle cx="415.6" cy="375.3" r="5.6" fill="#000"/>
<circle cx="420.3" cy="353.8" r="5.6" fill="#fff"/>
<circle cx="424.1" cy="375.3" r="5.6" fill="#000"/>
<circle cx="425.6" cy="422.2" r="5.6" fill="#fff"/>
<circle cx="426.9" cy="399.7" r="5.6" fill="#000"/>
<circle cx="429.7" cy="356.6" r="5.6" fill="#fff"/>
<circle cx="432.5" cy="358.4" r="5.6" fill="#000"/>
<circle cx="435.3" cy="365.0" r="5.6" fill="#000"/>
<circle cx="437.2" cy="350.9" r="5.6" fill="#fff"/>
<circle cx="439.1" cy="372.5" r="5.6" fill="#000"/>
<circle cx="441.3" cy="391.8" r="5.6" fill="#fff"/>
<circle cx="445.6" cy="317.2" r="5.6" fill="#000"/>
<circle cx="447.9" cy="295.6" r="5.6" fill="#fff"/>
<circle cx="453.1" cy="308.8" r="5.6" fill="#000"/>
<circle cx="458.8" cy="325.1" r="5.6" fill="#fff"/>
<circle cx="460.6" cy="309.7" r="5.6" fill="#000"/>
<circle cx="464.4" cy="313.4" r="5.6" fill="#fff"/>
<circle cx="467.2" cy="349.6" r="5.6" fill="#fff"/>
<circle cx="470.0" cy="285.3" r="5.6" fill="#000"/>
<circle cx="472.8" cy="325.1" r="5.6" fill="#fff"/>
<circle cx="474.7" cy="360.3" r="5.6" fill="#000"/>
<circle cx="476.6" cy="395.6" r="5.6" fill="#fff"/>
<circle cx="479.0" cy="418.4" r="5.6" fill="#000"/>
<circle cx="481.3" cy="375.3" r="5.6" fill="#fff"/>
<circle cx="483.1" cy="369.7" r="5.6" fill="#000"/>
<circle cx="486.9" cy="409.4" r="5.6" fill="#fff"/>
<circle cx="490.6" cy="373.4" r="5.6" fill="#fff"/>
<circle cx="492.5" cy="366.9" r="5.6" fill="#000"/>
<circle cx="494.8" cy="383.2" r="5.6" fill="#fff"/>
<circle cx="498.1" cy="402.5" r="5.6" fill="#000"/>
<circle cx="502.3" cy="391.3" r="5.6" fill="#fff"/>
<circle cx="505.6" cy="401.0" r="5.6" fill="#000"/>
<circle cx="508.4" cy="416.6" r="5.6" fill="#fff"/>
<circle cx="514.6" cy="430.3" r="5.6" fill="#000"/>
<circle cx="516.9" cy="392.2" r="5.6" fill="#fff"/>
<circle cx="519.7" cy="412.8" r="5.6" fill="#000"/>
<circle cx="522.5" cy="407.8" r="5.6" fill="#fff"/>
<circle cx="524.8" cy="387.9" r="5.6" fill="#000"/>
<circle cx="526.3" cy="367.3" r="5.6" fill="#fff"/>
<circle cx="528.5" cy="340.6" r="5.6" fill="#000"/>
<circle cx="530.9" cy="350.0" r="5.6" fill="#000"/>
<circle cx="534.7" cy="410.9" r="5.6" fill="#fff"/>
<circle cx="538.4" cy="402.5" r="5.6" fill="#fff"/>
<circle cx="543.5" cy="409.1" r="5.6" fill="#000"/>
<circle cx="545.6" cy="394.1" r="5.6" fill="#000"/>
<circle cx="551.2" cy="477.5" r="5.6" fill="#000"/>
<circle cx="557.2" cy="420.7" r="5.6" fill="#fff"/>
<circle cx="560.9" cy="399.7" r="5.6" fill="#fff"/>
<circle cx="565.1" cy="376.3" r="5.6" fill="#fff"/>
<circle cx="569.8" cy="314.4" r="5.6" fill="#000"/>
<circle cx="572.2" cy="342.5" r="5.6" fill="#000"/>
<circle cx="576.5" cy="341.6" r="5.6" fill="#fff"/>
<circle cx="579.3" cy="329.4" r="5.6" fill="#fff"/>
<circle cx="582.1" cy="349.6" r="5.6" fill="#fff"/>
<circle cx="585.3" cy="363.1" r="5.6" fill="#000"/>
<circle cx="587.2" cy="353.8" r="5.6" fill="#000"/>
<circle cx="594.0" cy="367.2" r="5.6" fill="#fff"/>
<circle cx="595.3" cy="355.9" r="5.6" fill="#fff"/>
<circle cx="598.1" cy="400.6" r="5.6" fill="#fff"/>
<circle cx="604.1" cy="470.9" r="5.6" fill="#000"/>
<circle cx="605.9" cy="442.8" r="5.6" fill="#000"/>
<circle cx="607.8" cy="463.4" r="5.6" fill="#000"/>
<circle cx="619.6" cy="224.8" r="5.6" fill="#fff"/>
<circle cx="621.9" cy="205.3" r="5.6" fill="#fff"/>
<circle cx="623.8" cy="197.8" r="5.6" fill="#fff"/>
<circle cx="635.0" cy="503.8" r="5.6" fill="#000"/>
<circle cx="636.9" cy="507.5" r="5.6" fill="#000"/>
<circle cx="638.4" cy="510.3" r="5.6" fill="#000"/>
<circle cx="647.8" cy="310.0" r="5.6" fill="#fff"/>
<circle cx="651.9" cy="300.3" r="5.6" fill="#fff"/>
<circle cx="654.9" cy="308.1" r="5.6" fill="#fff"/>
<circle cx="663.2" cy="321.6" r="5.6" fill="#000"/>
<circle cx="669.4" cy="367.2" r="5.6" fill="#000"/>
<circle cx="673.1" cy="276.2" r="5.6" fill="#000"/>
<circle cx="681.9" cy="349.8" r="5.6" fill="#fff"/>
<circle cx="683.8" cy="366.3" r="5.6" fill="#fff"/>
<circle cx="685.7" cy="373.2" r="5.6" fill="#fff"/>
<circle cx="694.7" cy="302.1" r="5.6" fill="#000"/>
<circle cx="697.5" cy="286.6" r="5.6" fill="#000"/>
<circle cx="700.3" cy="291.3" r="5.6" fill="#000"/>
<circle cx="708.1" cy="454.1" r="5.6" fill="#fff"/>
<circle cx="711.5" cy="412.3" r="5.6" fill="#fff"/>
<circle cx="714.7" cy="444.7" r="5.6" fill="#fff"/>
<circle cx="725.4" cy="270.3" r="5.6" fill="#000"/>
<circle cx="728.4" cy="298.4" r="5.6" fill="#000"/>
<circle cx="735.9" cy="305.3" r="5.6" fill="#fff"/>
<circle cx="739.7" cy="300.3" r="5.6" fill="#fff"/>
<circle cx="742.5" cy="301.6" r="5.6" fill="#fff"/>
<circle cx="747.2" cy="298.4" r="5.6" fill="#000"/>
<circle cx="755.6" cy="270.3" r="5.6" fill="#fff"/>
<circle cx="757.8" cy="280.6" r="5.6" fill="#fff"/>
<circle cx="760.1" cy="286.6" r="5.6" fill="#fff"/>
<circle cx="765.9" cy="320.3" r="5.6" fill="#000"/>
<circle cx="768.8" cy="299.7" r="5.6" fill="#000"/>
<circle cx="773.4" cy="298.8" r="5.6" fill="#000"/>
<circle cx="777.2" cy="315.6" r="5.6" fill="#000"/>
<circle cx="779.1" cy="300.6" r="5.6" fill="#000"/>
<circle cx="784.7" cy="305.9" r="5.6" fill="#fff"/>
<circle cx="787.5" cy="289.0" r="5.6" fill="#fff"/>
<circle cx="789.8" cy="313.8" r="5.6" fill="#fff"/>
<circle cx="792.6" cy="325.9" r="5.6" fill="#000"/>
<circle cx="802.5" cy="296.9" r="5.6" fill="#000"/>
<circle cx="811.6" cy="222.9" r="5.6" fill="#fff"/>
<circle cx="814.4" cy="208.4" r="5.6" fill="#fff"/>
<circle cx="831.9" cy="322.8" r="5.6" fill="#000"/>
<circle cx="834.7" cy="317.5" r="5.6" fill="#000"/>
<circle cx="844.1" cy="403.8" r="5.6" fill="#fff"/>
<circle cx="846.5" cy="407.9" r="5.6" fill="#fff"/>
<circle cx="853.8" cy="449.7" r="5.6" fill="#000"/>
<circle cx="857.2" cy="462.8" r="5.6" fill="#000"/>
<circle cx="869.4" cy="449.7" r="5.6" fill="#fff"/>
<circle cx="873.1" cy="464.3" r="5.6" fill="#fff"/>
<circle cx="875.9" cy="439.8" r="5.6" fill="#fff"/>
<circle cx="885.3" cy="346.6" r="5.6" fill="#000"/>
<circle cx="890.0" cy="363.4" r="5.6" fill="#000"/>
<circle cx="892.8" cy="342.8" r="5.6" fill="#000"/>
<circle cx="897.5" cy="370.0" r="5.6" fill="#fff"/>
<circle cx="899.9" cy="375.6" r="5.6" fill="#fff"/>
<circle cx="908.4" cy="346.6" r="5.6" fill="#000"/>
<circle cx="911.2" cy="320.3" r="5.6" fill="#000"/>
<circle cx="917.2" cy="397.2" r="5.6" fill="#fff"/>
<circle cx="920.0" cy="407.5" r="5.6" fill="#fff"/>
<circle cx="922.3" cy="394.4" r="5.6" fill="#fff"/>
<circle cx="928.4" cy="368.1" r="5.6" fill="#000"/>
<circle cx="932.2" cy="370.9" r="5.6" fill="#fff"/>
<circle cx="933.1" cy="376.6" r="5.6" fill="#fff"/>
<circle cx="935.4" cy="355.0" r="5.6" fill="#000"/>
<circle cx="936.9" cy="332.5" r="5.6" fill="#fff"/>
<circle cx="939.1" cy="326.5" r="5.6" fill="#000"/>
<circle cx="941.9" cy="344.7" r="5.6" fill="#fff"/>
<circle cx="952.3" cy="332.9" r="5.6" fill="#000"/>
<circle cx="957.1" cy="316.0" r="5.6" fill="#fff"/>
<circle cx="959.9" cy="298.8" r="5.6" fill="#000"/>
<circle cx="963.1" cy="289.8" r="5.6" fill="#fff"/>
<circle cx="965.9" cy="290.3" r="5.6" fill="#000"/>
<circle cx="969.7" cy="324.1" r="5.6" fill="#fff"/>
<circle cx="971.6" cy="349.4" r="5.6" fill="#000"/>
<circle cx="974.0" cy="360.6" r="5.6" fill="#fff"/>
<circle cx="977.2" cy="388.8" r="5.6" fill="#000"/>
<circle cx="986.2" cy="341.9" r="5.6" fill="#fff"/>
<circle cx="992.8" cy="324.1" r="5.6" fill="#fff"/>
<circle cx="994.6" cy="331.6" r="5.6" fill="#fff"/>
<circle cx="1005.9" cy="424.0" r="5.6" fill="#000"/>
<circle cx="1009.4" cy="383.5" r="5.6" fill="#000"/>
<circle cx="1011.9" cy="401.9" r="5.6" fill="#000"/>
<circle cx="1015.3" cy="408.4" r="5.6" fill="#000"/>
<circle cx="1023.1" cy="327.8" r="5.6" fill="#fff"/>
<circle cx="1025.6" cy="307.2" r="5.6" fill="#fff"/>
<circle cx="1038.1" cy="463.8" r="5.6" fill="#000"/>
<circle cx="1043.4" cy="465.3" r="5.6" fill="#000"/>
<circle cx="1055.3" cy="623.8" r="5.6" fill="#fff"/>
<circle cx="1060.0" cy="630.3" r="5.6" fill="#fff"/>
<circle cx="1066.0" cy="624.3" r="5.6" fill="#fff"/>
<circle cx="1071.6" cy="592.8" r="5.6" fill="#000"/>
<circle cx="1075.0" cy="612.5" r="5.6" fill="#000"/>
<circle cx="1081.0" cy="595.6" r="5.6" fill="#fff"/>
<circle cx="1083.4" cy="609.7" r="5.6" fill="#fff"/>
<circle cx="1087.2" cy="607.8" r="5.6" fill="#000"/>
<circle cx="1090.4" cy="591.3" r="5.6" fill="#000"/>
<circle cx="1095.6" cy="561.9" r="5.6" fill="#fff"/>
<circle cx="1098.8" cy="557.6" r="5.6" fill="#fff"/>
<circle cx="1102.2" cy="581.6" r="5.6" fill="#fff"/>
<circle cx="1105.9" cy="584.4" r="5.6" fill="#000"/>
<circle cx="1110.3" cy="571.3" r="5.6" fill="#fff"/>
<circle cx="1119.1" cy="509.4" r="5.6" fill="#000"/>
<circle cx="1121.9" cy="474.7" r="5.6" fill="#000"/>
<circle cx="1126.2" cy="543.1" r="5.6" fill="#000"/>
<circle cx="1132.6" cy="471.5" r="5.6" fill="#fff"/>
<circle cx="1135.4" cy="479.0" r="5.6" fill="#fff"/>
<circle cx="1137.3" cy="545.4" r="5.6" fill="#fff"/>
<circle cx="1144.0" cy="542.2" r="5.6" fill="#000"/>
<circle cx="1148.1" cy="547.8" r="5.6" fill="#000"/>
<circle cx="1156.6" cy="500.9" r="5.6" fill="#fff"/>
<circle cx="1158.8" cy="524.8" r="5.6" fill="#fff"/>
<circle cx="1168.2" cy="430.2" r="5.6" fill="#000"/>
<circle cx="1172.1" cy="544.1" r="5.6" fill="#000"/>
<circle cx="1183.2" cy="557.2" r="5.6" fill="#fff"/>
<circle cx="1184.7" cy="607.8" r="5.6" fill="#000"/>
<circle cx="1187.5" cy="611.6" r="5.6" fill="#000"/>
<circle cx="1190.3" cy="615.3" r="5.6" fill="#000"/>
<circle cx="1195.0" cy="602.8" r="5.6" fill="#fff"/>
<circle cx="1196.3" cy="581.0" r="5.6" fill="#fff"/>
<circle cx="1197.4" cy="612.5" r="5.6" fill="#fff"/>
<circle cx="1199.7" cy="612.5" r="5.6" fill="#000"/>
<circle cx="1202.9" cy="619.1" r="5.6" fill="#000"/>
<circle cx="1206.3" cy="619.1" r="5.6" fill="#000"/>
</g>
<g stroke="#000" stroke-width="1.6">
<circle cx="138.0" cy="686.2" r="2.95" fill="#000"/>
<circle cx="140.3" cy="686.2" r="2.95" fill="#000"/>
<circle cx="146.4" cy="686.2" r="2.95" fill="#fff"/>
<circle cx="149.7" cy="686.2" r="2.95" fill="#fff"/>
<circle cx="156.7" cy="686.2" r="2.95" fill="#000"/>
<circle cx="159.1" cy="686.2" r="2.95" fill="#000"/>
<circle cx="166.6" cy="686.2" r="2.95" fill="#fff"/>
<circle cx="170.3" cy="686.2" r="2.95" fill="#fff"/>
<circle cx="172.7" cy="686.2" r="2.95" fill="#fff"/>
<circle cx="175.0" cy="686.2" r="2.95" fill="#000"/>
<circle cx="178.7" cy="686.2" r="2.95" fill="#000"/>
<circle cx="184.4" cy="686.2" r="2.95" fill="#fff"/>
<circle cx="186.2" cy="686.2" r="2.95" fill="#fff"/>
<circle cx="188.1" cy="686.2" r="2.95" fill="#fff"/>
<circle cx="192.8" cy="686.2" r="2.95" fill="#000"/>
<circle cx="197.5" cy="686.2" r="2.95" fill="#000"/>
<circle cx="201.2" cy="686.2" r="2.95" fill="#000"/>
<circle cx="205.0" cy="686.2" r="2.95" fill="#fff"/>
<circle cx="210.2" cy="686.2" r="2.95" fill="#fff"/>
<circle cx="215.8" cy="686.2" r="2.95" fill="#fff"/>
<circle cx="221.4" cy="686.2" r="2.95" fill="#000"/>
<circle cx="223.7" cy="686.2" r="2.95" fill="#000"/>
<circle cx="225.6" cy="686.2" r="2.95" fill="#000"/>
<circle cx="233.6" cy="686.2" r="2.95" fill="#fff"/>
<circle cx="235.5" cy="686.2" r="2.95" fill="#fff"/>
<circle cx="239.2" cy="686.2" r="2.95" fill="#fff"/>
<circle cx="250.0" cy="686.2" r="2.95" fill="#000"/>
<circle cx="253.8" cy="686.2" r="2.95" fill="#000"/>
<circle cx="262.8" cy="686.2" r="2.95" fill="#fff"/>
<circle cx="265.6" cy="686.2" r="2.95" fill="#fff"/>
<circle cx="276.9" cy="686.2" r="2.95" fill="#000"/>
<circle cx="280.6" cy="686.2" r="2.95" fill="#000"/>
<circle cx="291.9" cy="686.2" r="2.95" fill="#fff"/>
<circle cx="295.6" cy="686.2" r="2.95" fill="#fff"/>
<circle cx="299.4" cy="686.2" r="2.95" fill="#000"/>
<circle cx="301.3" cy="686.2" r="2.95" fill="#000"/>
<circle cx="303.1" cy="686.2" r="2.95" fill="#000"/>
<circle cx="308.8" cy="686.2" r="2.95" fill="#fff"/>
<circle cx="312.9" cy="686.2" r="2.95" fill="#fff"/>
<circle cx="317.5" cy="686.2" r="2.95" fill="#fff"/>
<circle cx="325.9" cy="686.2" r="2.95" fill="#000"/>
<circle cx="330.6" cy="686.2" r="2.95" fill="#000"/>
<circle cx="338.1" cy="686.2" r="2.95" fill="#fff"/>
<circle cx="342.8" cy="686.2" r="2.95" fill="#fff"/>
<circle cx="348.4" cy="686.2" r="2.95" fill="#fff"/>
<circle cx="356.0" cy="686.2" r="2.95" fill="#000"/>
<circle cx="362.2" cy="686.2" r="2.95" fill="#fff"/>
<circle cx="363.1" cy="686.2" r="2.95" fill="#fff"/>
<circle cx="365.9" cy="686.2" r="2.95" fill="#fff"/>
<circle cx="370.6" cy="686.2" r="2.95" fill="#000"/>
<circle cx="374.0" cy="686.2" r="2.95" fill="#000"/>
<circle cx="377.8" cy="686.2" r="2.95" fill="#fff"/>
<circle cx="380.0" cy="686.2" r="2.95" fill="#fff"/>
<circle cx="383.4" cy="686.2" r="2.95" fill="#fff"/>
<circle cx="385.6" cy="686.2" r="2.95" fill="#000"/>
<circle cx="388.4" cy="686.2" r="2.95" fill="#000"/>
<circle cx="390.3" cy="686.2" r="2.95" fill="#fff"/>
<circle cx="393.1" cy="686.2" r="2.95" fill="#000"/>
<circle cx="394.4" cy="686.2" r="2.95" fill="#fff"/>
<circle cx="396.9" cy="686.2" r="2.95" fill="#000"/>
<circle cx="399.1" cy="686.2" r="2.95" fill="#fff"/>
<circle cx="400.6" cy="686.2" r="2.95" fill="#000"/>
<circle cx="403.4" cy="686.2" r="2.95" fill="#fff"/>
<circle cx="407.2" cy="686.2" r="2.95" fill="#000"/>
<circle cx="410.4" cy="686.2" r="2.95" fill="#fff"/>
<circle cx="411.9" cy="686.2" r="2.95" fill="#000"/>
<circle cx="414.7" cy="686.2" r="2.95" fill="#fff"/>
<circle cx="415.6" cy="686.2" r="2.95" fill="#000"/>
<circle cx="420.3" cy="686.2" r="2.95" fill="#fff"/>
<circle cx="424.1" cy="686.2" r="2.95" fill="#000"/>
<circle cx="425.6" cy="686.2" r="2.95" fill="#fff"/>
<circle cx="426.9" cy="686.2" r="2.95" fill="#000"/>
<circle cx="429.7" cy="686.2" r="2.95" fill="#fff"/>
<circle cx="432.5" cy="686.2" r="2.95" fill="#000"/>
<circle cx="435.3" cy="686.2" r="2.95" fill="#000"/>
<circle cx="437.2" cy="686.2" r="2.95" fill="#fff"/>
<circle cx="439.1" cy="686.2" r="2.95" fill="#000"/>
<circle cx="441.3" cy="686.2" r="2.95" fill="#fff"/>
<circle cx="445.6" cy="686.2" r="2.95" fill="#000"/>
<circle cx="447.9" cy="686.2" r="2.95" fill="#fff"/>
<circle cx="453.1" cy="686.2" r="2.95" fill="#000"/>
<circle cx="458.8" cy="686.2" r="2.95" fill="#fff"/>
<circle cx="460.6" cy="686.2" r="2.95" fill="#000"/>
<circle cx="464.4" cy="686.2" r="2.95" fill="#fff"/>
<circle cx="467.2" cy="686.2" r="2.95" fill="#fff"/>
<circle cx="470.0" cy="686.2" r="2.95" fill="#000"/>
<circle cx="472.8" cy="686.2" r="2.95" fill="#fff"/>
<circle cx="474.7" cy="686.2" r="2.95" fill="#000"/>
<circle cx="476.6" cy="686.2" r="2.95" fill="#fff"/>
<circle cx="479.0" cy="686.2" r="2.95" fill="#000"/>
<circle cx="481.3" cy="686.2" r="2.95" fill="#fff"/>
<circle cx="483.1" cy="686.2" r="2.95" fill="#000"/>
<circle cx="486.9" cy="686.2" r="2.95" fill="#fff"/>
<circle cx="490.6" cy="686.2" r="2.95" fill="#fff"/>
<circle cx="492.5" cy="686.2" r="2.95" fill="#000"/>
<circle cx="494.8" cy="686.2" r="2.95" fill="#fff"/>
<circle cx="498.1" cy="686.2" r="2.95" fill="#000"/>
<circle cx="502.3" cy="686.2" r="2.95" fill="#fff"/>
<circle cx="505.6" cy="686.2" r="2.95" fill="#000"/>
<circle cx="508.4" cy="686.2" r="2.95" fill="#fff"/>
<circle cx="514.6" cy="686.2" r="2.95" fill="#000"/>
<circle cx="516.9" cy="686.2" r="2.95" fill="#fff"/>
<circle cx="519.7" cy="686.2" r="2.95" fill="#000"/>
<circle cx="522.5" cy="686.2" r="2.95" fill="#fff"/>
<circle cx="524.8" cy="686.2" r="2.95" fill="#000"/>
<circle cx="526.3" cy="686.2" r="2.95" fill="#fff"/>
<circle cx="528.5" cy="686.2" r="2.95" fill="#000"/>
<circle cx="530.9" cy="686.2" r="2.95" fill="#000"/>
<circle cx="534.7" cy="686.2" r="2.95" fill="#fff"/>
<circle cx="538.4" cy="686.2" r="2.95" fill="#fff"/>
<circle cx="543.5" cy="686.2" r="2.95" fill="#000"/>
<circle cx="545.6" cy="686.2" r="2.95" fill="#000"/>
<circle cx="551.2" cy="686.2" r="2.95" fill="#000"/>
<circle cx="557.2" cy="686.2" r="2.95" fill="#fff"/>
<circle cx="560.9" cy="686.2" r="2.95" fill="#fff"/>
<circle cx="565.1" cy="686.2" r="2.95" fill="#fff"/>
<circle cx="569.8" cy="686.2" r="2.95" fill="#000"/>
<circle cx="572.2" cy="686.2" r="2.95" fill="#000"/>
<circle cx="576.5" cy="686.2" r="2.95" fill="#fff"/>
<circle cx="579.3" cy="686.2" r="2.95" fill="#fff"/>
<circle cx="582.1" cy="686.2" r="2.95" fill="#fff"/>
<circle cx="585.3" cy="686.2" r="2.95" fill="#000"/>
<circle cx="587.2" cy="686.2" r="2.95" fill="#000"/>
<circle cx="594.0" cy="686.2" r="2.95" fill="#fff"/>
<circle cx="595.3" cy="686.2" r="2.95" fill="#fff"/>
<circle cx="598.1" cy="686.2" r="2.95" fill="#fff"/>
<circle cx="604.1" cy="686.2" r="2.95" fill="#000"/>
<circle cx="605.9" cy="686.2" r="2.95" fill="#000"/>
<circle cx="607.8" cy="686.2" r="2.95" fill="#000"/>
<circle cx="619.6" cy="686.2" r="2.95" fill="#fff"/>
<circle cx="621.9" cy="686.2" r="2.95" fill="#fff"/>
<circle cx="623.8" cy="686.2" r="2.95" fill="#fff"/>
<circle cx="635.0" cy="686.2" r="2.95" fill="#000"/>
<circle cx="636.9" cy="686.2" r="2.95" fill="#000"/>
<circle cx="638.4" cy="686.2" r="2.95" fill="#000"/>
<circle cx="647.8" cy="686.2" r="2.95" fill="#fff"/>
<circle cx="651.9" cy="686.2" r="2.95" fill="#fff"/>
<circle cx="654.9" cy="686.2" r="2.95" fill="#fff"/>
<circle cx="663.2" cy="686.2" r="2.95" fill="#000"/>
<circle cx="669.4" cy="686.2" r="2.95" fill="#000"/>
<circle cx="673.1" cy="686.2" r="2.95" fill="#000"/>
<circle cx="681.9" cy="686.2" r="2.95" fill="#fff"/>
<circle cx="683.8" cy="686.2" r="2.95" fill="#fff"/>
<circle cx="685.7" cy="686.2" r="2.95" fill="#fff"/>
<circle cx="694.7" cy="686.2" r="2.95" fill="#000"/>
<circle cx="697.5" cy="686.2" r="2.95" fill="#000"/>
<circle cx="700.3" cy="686.2" r="2.95" fill="#000"/>
<circle cx="708.1" cy="686.2" r="2.95" fill="#fff"/>
<circle cx="711.5" cy="686.2" r="2.95" fill="#fff"/>
<circle cx="714.7" cy="686.2" r="2.95" fill="#fff"/>
<circle cx="725.4" cy="686.2" r="2.95" fill="#000"/>
<circle cx="728.4" cy="686.2" r="2.95" fill="#000"/>
<circle cx="735.9" cy="686.2" r="2.95" fill="#fff"/>
<circle cx="739.7" cy="686.2" r="2.95" fill="#fff"/>
<circle cx="742.5" cy="686.2" r="2.95" fill="#fff"/>
<circle cx="747.2" cy="686.2" r="2.95" fill="#000"/>
<circle cx="755.6" cy="686.2" r="2.95" fill="#fff"/>
<circle cx="757.8" cy="686.2" r="2.95" fill="#fff"/>
<circle cx="760.1" cy="686.2" r="2.95" fill="#fff"/>
<circle cx="765.9" cy="686.2" r="2.95" fill="#000"/>
<circle cx="768.8" cy="686.2" r="2.95" fill="#000"/>
<circle cx="773.4" cy="686.2" r="2.95" fill="#000"/>
<circle cx="777.2" cy="686.2" r="2.95" fill="#000"/>
<circle cx="779.1" cy="686.2" r="2.95" fill="#000"/>
<circle cx="784.7" cy="686.2" r="2.95" fill="#fff"/>
<circle cx="787.5" cy="686.2" r="2.95" fill="#fff"/>
<circle cx="789.8" cy="686.2" r="2.95" fill="#fff"/>
<circle cx="792.6" cy="686.2" r="2.95" fill="#000"/>
<circle cx="802.5" cy="686.2" r="2.95" fill="#000"/>
<circle cx="811.6" cy="686.2" r="2.95" fill="#fff"/>
<circle cx="814.4" cy="686.2" r="2.95" fill="#fff"/>
<circle cx="831.9" cy="686.2" r="2.95" fill="#000"/>
<circle cx="834.7" cy="686.2" r="2.95" fill="#000"/>
<circle cx="844.1" cy="686.2" r="2.95" fill="#fff"/>
<circle cx="846.5" cy="686.2" r="2.95" fill="#fff"/>
<circle cx="853.8" cy="686.2" r="2.95" fill="#000"/>
<circle cx="857.2" cy="686.2" r="2.95" fill="#000"/>
<circle cx="869.4" cy="686.2" r="2.95" fill="#fff"/>
<circle cx="873.1" cy="686.2" r="2.95" fill="#fff"/>
<circle cx="875.9" cy="686.2" r="2.95" fill="#fff"/>
<circle cx="885.3" cy="686.2" r="2.95" fill="#000"/>
<circle cx="890.0" cy="686.2" r="2.95" fill="#000"/>
<circle cx="892.8" cy="686.2" r="2.95" fill="#000"/>
<circle cx="897.5" cy="686.2" r="2.95" fill="#fff"/>
<circle cx="899.9" cy="686.2" r="2.95" fill="#fff"/>
<circle cx="908.4" cy="686.2" r="2.95" fill="#000"/>
<circle cx="911.2" cy="686.2" r="2.95" fill="#000"/>
<circle cx="917.2" cy="686.2" r="2.95" fill="#fff"/>
<circle cx="920.0" cy="686.2" r="2.95" fill="#fff"/>
<circle cx="922.3" cy="686.2" r="2.95" fill="#fff"/>
<circle cx="928.4" cy="686.2" r="2.95" fill="#000"/>
<circle cx="932.2" cy="686.2" r="2.95" fill="#fff"/>
<circle cx="933.1" cy="686.2" r="2.95" fill="#fff"/>
<circle cx="935.4" cy="686.2" r="2.95" fill="#000"/>
<circle cx="936.9" cy="686.2" r="2.95" fill="#fff"/>
<circle cx="939.1" cy="686.2" r="2.95" fill="#000"/>
<circle cx="941.9" cy="686.2" r="2.95" fill="#fff"/>
<circle cx="952.3" cy="686.2" r="2.95" fill="#000"/>
<circle cx="957.1" cy="686.2" r="2.95" fill="#fff"/>
<circle cx="959.9" cy="686.2" r="2.95" fill="#000"/>
<circle cx="963.1" cy="686.2" r="2.95" fill="#fff"/>
<circle cx="965.9" cy="686.2" r="2.95" fill="#000"/>
<circle cx="969.7" cy="686.2" r="2.95" fill="#fff"/>
<circle cx="971.6" cy="686.2" r="2.95" fill="#000"/>
<circle cx="974.0" cy="686.2" r="2.95" fill="#fff"/>
<circle cx="977.2" cy="686.2" r="2.95" fill="#000"/>
<circle cx="986.2" cy="686.2" r="2.95" fill="#fff"/>
<circle cx="992.8" cy="686.2" r="2.95" fill="#fff"/>
<circle cx="994.6" cy="686.2" r="2.95" fill="#fff"/>
<circle cx="1005.9" cy="686.2" r="2.95" fill="#000"/>
<circle cx="1009.4" cy="686.2" r="2.95" fill="#000"/>
<circle cx="1011.9" cy="686.2" r="2.95" fill="#000"/>
<circle cx="1015.3" cy="686.2" r="2.95" fill="#000"/>
<circle cx="1023.1" cy="686.2" r="2.95" fill="#fff"/>
<circle cx="1025.6" cy="686.2" r="2.95" fill="#fff"/>
<circle cx="1038.1" cy="686.2" r="2.95" fill="#000"/>
<circle cx="1043.4" cy="686.2" r="2.95" fill="#000"/>
<circle cx="1055.3" cy="686.2" r="2.95" fill="#fff"/>
<circle cx="1060.0" cy="686.2" r="2.95" fill="#fff"/>
<circle cx="1066.0" cy="686.2" r="2.95" fill="#fff"/>
<circle cx="1071.6" cy="686.2" r="2.95" fill="#000"/>
<circle cx="1075.0" cy="686.2" r="2.95" fill="#000"/>
<circle cx="1081.0" cy="686.2" r="2.95" fill="#fff"/>
<circle cx="1083.4" cy="686.2" r="2.95" fill="#fff"/>
<circle cx="1087.2" cy="686.2" r="2.95" fill="#000"/>
<circle cx="1090.4" cy="686.2" r="2.95" fill="#000"/>
<circle cx="1095.6" cy="686.2" r="2.95" fill="#fff"/>
<circle cx="1098.8" cy="686.2" r="2.95" fill="#fff"/>
<circle cx="1102.2" cy="686.2" r="2.95" fill="#fff"/>
<circle cx="1105.9" cy="686.2" r="2.95" fill="#000"/>
<circle cx="1110.3" cy="686.2" r="2.95" fill="#fff"/>
<circle cx="1119.1" cy="686.2" r="2.95" fill="#000"/>
<circle cx="1121.9" cy="686.2" r="2.95" fill="#000"/>
<circle cx="1126.2" cy="686.2" r="2.95" fill="#000"/>
<circle cx="1132.6" cy="686.2" r="2.95" fill="#fff"/>
<circle cx="1135.4" cy="686.2" r="2.95" fill="#fff"/>
<circle cx="1137.3" cy="686.2" r="2.95" fill="#fff"/>
<circle cx="1144.0" cy="686.2" r="2.95" fill="#000"/>
<circle cx="1148.1" cy="686.2" r="2.95" fill="#000"/>
<circle cx="1156.6" cy="686.2" r="2.95" fill="#fff"/>
<circle cx="1158.8" cy="686.2" r="2.95" fill="#fff"/>
<circle cx="1168.2" cy="686.2" r="2.95" fill="#000"/>
<circle cx="1172.1" cy="686.2" r="2.95" fill="#000"/>
<circle cx="1183.2" cy="686.2" r="2.95" fill="#fff"/>
<circle cx="1184.7" cy="686.2" r="2.95" fill="#000"/>
<circle cx="1187.5" cy="686.2" r="2.95" fill="#000"/>
<circle cx="1190.3" cy="686.2" r="2.95" fill="#000"/>
<circle cx="1195.0" cy="686.2" r="2.95" fill="#fff"/>
<circle cx="1196.3" cy="686.2" r="2.95" fill="#fff"/>
<circle cx="1197.4" cy="686.2" r="2.95" fill="#fff"/>
<circle cx="1199.7" cy="686.2" r="2.95" fill="#000"/>
<circle cx="1202.9" cy="686.2" r="2.95" fill="#000"/>
<circle cx="1206.3" cy="686.2" r="2.95" fill="#000"/>
</g>
<g font-size="13.1" fill="#000" text-anchor="middle">
<text transform="translate(153.6 657.5) rotate(-90)">G135</text>
<text transform="translate(170.9 657.5) rotate(-90)">H2O2</text>
<text transform="translate(188.3 657.5) rotate(-90)">Oxctl</text>
<text transform="translate(210.8 657.5) rotate(-90)">dia15</text>
<text transform="translate(238.0 657.5) rotate(-90)">dia5</text>
<text transform="translate(267.6 657.5) rotate(-90)">C30</text>
<text transform="translate(296.2 657.5) rotate(-90)">LPh</text>
<text transform="translate(314.4 657.5) rotate(-90)">aero</text>
<text transform="translate(343.6 657.5) rotate(-90)">ferm</text>
<text transform="translate(366.3 657.5) rotate(-90)">M9−tran</text>
<text transform="translate(383.6 657.5) rotate(-90)">MG+120</text>
<text transform="translate(397.2 657.5) rotate(-90)">MG+60</text>
<text transform="translate(400.1 657.5) rotate(-90)">MG+60</text>
<text transform="translate(405.6 657.5) rotate(-90)">MG+25</text>
<text transform="translate(411.6 657.5) rotate(-90)">MG+45</text>
<text transform="translate(416.6 657.5) rotate(-90)">MG+15</text>
<text transform="translate(422.6 657.5) rotate(-90)">MG+10</text>
<text transform="translate(428.6 657.5) rotate(-90)">MG+25</text>
<text transform="translate(434.6 657.5) rotate(-90)">MG+15</text>
<text transform="translate(444.6 657.5) rotate(-90)">MG−0.2</text>
<text transform="translate(447.2 657.5) rotate(-90)">MG−0.2</text>
<text transform="translate(454.2 657.5) rotate(-90)">Fru</text>
<text transform="translate(466.5 657.5) rotate(-90)">GM−0.2</text>
<text transform="translate(477.6 657.5) rotate(-90)">GM+15</text>
<text transform="translate(482.6 657.5) rotate(-90)">GM+25</text>
<text transform="translate(487.6 657.5) rotate(-90)">GM+45</text>
<text transform="translate(492.6 657.5) rotate(-90)">GM+60</text>
<text transform="translate(497.6 657.5) rotate(-90)">GM+90</text>
<text transform="translate(502.6 657.5) rotate(-90)">GM+90</text>
<text transform="translate(511.6 657.5) rotate(-90)">GM+150</text>
<text transform="translate(522.6 657.5) rotate(-90)">GM+60</text>
<text transform="translate(528.6 657.5) rotate(-90)">GM+25</text>
<text transform="translate(533.6 657.5) rotate(-90)">GM+45</text>
<text transform="translate(538.5 657.5) rotate(-90)">M9−exp</text>
<text transform="translate(561.6 657.5) rotate(-90)">Mal</text>
<text transform="translate(581.1 657.5) rotate(-90)">Glu</text>
<text transform="translate(598.6 657.5) rotate(-90)">BMM</text>
<text transform="translate(624.6 657.5) rotate(-90)">Etha</text>
<text transform="translate(654.6 657.5) rotate(-90)">Gly</text>
<text transform="translate(687.4 657.5) rotate(-90)">HiOs</text>
<text transform="translate(712.6 657.5) rotate(-90)">S2</text>
<text transform="translate(741.6 657.5) rotate(-90)">S4</text>
<text transform="translate(760.6 657.5) rotate(-90)">S5</text>
<text transform="translate(789.6 657.5) rotate(-90)">S7</text>
<text transform="translate(816.6 657.5) rotate(-90)">S6</text>
<text transform="translate(848.6 657.5) rotate(-90)">B36</text>
<text transform="translate(875.2 657.5) rotate(-90)">LoTm</text>
<text transform="translate(902.4 657.5) rotate(-90)">G/S</text>
<text transform="translate(922.1 657.5) rotate(-90)">SMMPr</text>
<text transform="translate(932.4 657.5) rotate(-90)">T−4.40H</text>
<text transform="translate(937.1 657.5) rotate(-90)">T−2.40H</text>
<text transform="translate(941.8 657.5) rotate(-90)">T−1.10H</text>
<text transform="translate(946.6 657.5) rotate(-90)">T0.0H</text>
<text transform="translate(959.6 657.5) rotate(-90)">T1.0H</text>
<text transform="translate(967.1 657.5) rotate(-90)">T2.0H</text>
<text transform="translate(974.6 657.5) rotate(-90)">T3.0H</text>
<text transform="translate(980.2 657.5) rotate(-90)">T4.0H</text>
<text transform="translate(991.6 657.5) rotate(-90)">M9−stat</text>
<text transform="translate(1028.0 657.5) rotate(-90)">Sw</text>
<text transform="translate(1061.0 657.5) rotate(-90)">LBGstat</text>
<text transform="translate(1086.0 657.5) rotate(-90)">M0t45</text>
<text transform="translate(1100.8 657.5) rotate(-90)">Lbtran</text>
<text transform="translate(1114.9 657.5) rotate(-90)">M40t45</text>
<text transform="translate(1137.0 657.5) rotate(-90)">M0t90</text>
<text transform="translate(1161.8 657.5) rotate(-90)">BI</text>
<text transform="translate(1188.0 657.5) rotate(-90)">M0t45</text>
<text transform="translate(1198.6 657.5) rotate(-90)">Lbexp</text>
<text transform="translate(1205.8 657.5) rotate(-90)">Lbexp</text>
<text transform="translate(143.3 714.5) rotate(-90)">G150</text>
<text transform="translate(159.3 714.5) rotate(-90)">G180</text>
<text transform="translate(179.0 714.5) rotate(-90)">Paraq</text>
<text transform="translate(197.6 714.5) rotate(-90)">LBGexp</text>
<text transform="translate(226.6 714.5) rotate(-90)">Diami</text>
<text transform="translate(254.9 714.5) rotate(-90)">C90</text>
<text transform="translate(281.6 714.5) rotate(-90)">Cold</text>
<text transform="translate(304.2 714.5) rotate(-90)">HPh</text>
<text transform="translate(332.6 714.5) rotate(-90)">nit</text>
<text transform="translate(360.6 714.5) rotate(-90)">GM+150</text>
<text transform="translate(375.4 714.5) rotate(-90)">MG+150</text>
<text transform="translate(392.1 714.5) rotate(-90)">MG+90</text>
<text transform="translate(397.4 714.5) rotate(-90)">MG+90</text>
<text transform="translate(402.6 714.5) rotate(-90)">MG+45</text>
<text transform="translate(408.0 714.5) rotate(-90)">MG+30</text>
<text transform="translate(413.3 714.5) rotate(-90)">MG+25</text>
<text transform="translate(418.6 714.5) rotate(-90)">MG+15</text>
<text transform="translate(423.9 714.5) rotate(-90)">MG+10</text>
<text transform="translate(429.2 714.5) rotate(-90)">MG+60</text>
<text transform="translate(434.6 714.5) rotate(-90)">MG+45</text>
<text transform="translate(442.6 714.5) rotate(-90)">MG−0.1</text>
<text transform="translate(451.1 714.5) rotate(-90)">UNK1</text>
<text transform="translate(459.9 714.5) rotate(-90)">Glucon</text>
<text transform="translate(467.1 714.5) rotate(-90)">GM−0.1</text>
<text transform="translate(472.6 714.5) rotate(-90)">GM+5</text>
<text transform="translate(477.6 714.5) rotate(-90)">GM+10</text>
<text transform="translate(482.6 714.5) rotate(-90)">GM+20</text>
<text transform="translate(487.6 714.5) rotate(-90)">GM+45</text>
<text transform="translate(492.6 714.5) rotate(-90)">GM+90</text>
<text transform="translate(497.6 714.5) rotate(-90)">GM+60</text>
<text transform="translate(504.1 714.5) rotate(-90)">GM+120</text>
<text transform="translate(510.2 714.5) rotate(-90)">GM+120</text>
<text transform="translate(519.6 714.5) rotate(-90)">GM+90</text>
<text transform="translate(525.6 714.5) rotate(-90)">GM+45</text>
<text transform="translate(530.6 714.5) rotate(-90)">GM+25</text>
<text transform="translate(534.1 714.5) rotate(-90)">GM+5</text>
<text transform="translate(548.6 714.5) rotate(-90)">M/G</text>
<text transform="translate(574.1 714.5) rotate(-90)">Fru</text>
<text transform="translate(589.6 714.5) rotate(-90)">SMM</text>
<text transform="translate(609.1 714.5) rotate(-90)">Heat</text>
<text transform="translate(640.6 714.5) rotate(-90)">Salt</text>
<text transform="translate(667.6 714.5) rotate(-90)">HiTm</text>
<text transform="translate(700.6 714.5) rotate(-90)">S1</text>
<text transform="translate(730.6 714.5) rotate(-90)">S3</text>
<text transform="translate(753.0 714.5) rotate(-90)">S3</text>
<text transform="translate(770.6 714.5) rotate(-90)">S6</text>
<text transform="translate(797.1 714.5) rotate(-90)">S8</text>
<text transform="translate(837.6 714.5) rotate(-90)">BT</text>
<text transform="translate(858.0 714.5) rotate(-90)">B60</text>
<text transform="translate(889.3 714.5) rotate(-90)">Pyr</text>
<text transform="translate(913.6 714.5) rotate(-90)">Glucon</text>
<text transform="translate(929.6 714.5) rotate(-90)">T−5.40H</text>
<text transform="translate(934.3 714.5) rotate(-90)">T−3.40H</text>
<text transform="translate(939.9 714.5) rotate(-90)">T−1.40H</text>
<text transform="translate(944.6 714.5) rotate(-90)">T−0.40H</text>
<text transform="translate(954.0 714.5) rotate(-90)">T0.30H</text>
<text transform="translate(961.6 714.5) rotate(-90)">T1.30H</text>
<text transform="translate(968.0 714.5) rotate(-90)">T2.30H</text>
<text transform="translate(974.6 714.5) rotate(-90)">T3.30H</text>
<text transform="translate(984.0 714.5) rotate(-90)">T5.0H</text>
<text transform="translate(1011.2 714.5) rotate(-90)">BC</text>
<text transform="translate(1044.0 714.5) rotate(-90)">LPhT</text>
<text transform="translate(1076.7 714.5) rotate(-90)">LBGtran</text>
<text transform="translate(1091.6 714.5) rotate(-90)">M40t45</text>
<text transform="translate(1111.2 714.5) rotate(-90)">Mt0</text>
<text transform="translate(1123.3 714.5) rotate(-90)">M40t90</text>
<text transform="translate(1148.6 714.5) rotate(-90)">Lbstat</text>
<text transform="translate(1173.0 714.5) rotate(-90)">S0</text>
<text transform="translate(1191.2 714.5) rotate(-90)">dia0</text>
<text transform="translate(1204.0 714.5) rotate(-90)">Mt0</text>
<text transform="translate(1209.6 714.5) rotate(-90)">Mt0</text>
</g>
</svg></body></html>
